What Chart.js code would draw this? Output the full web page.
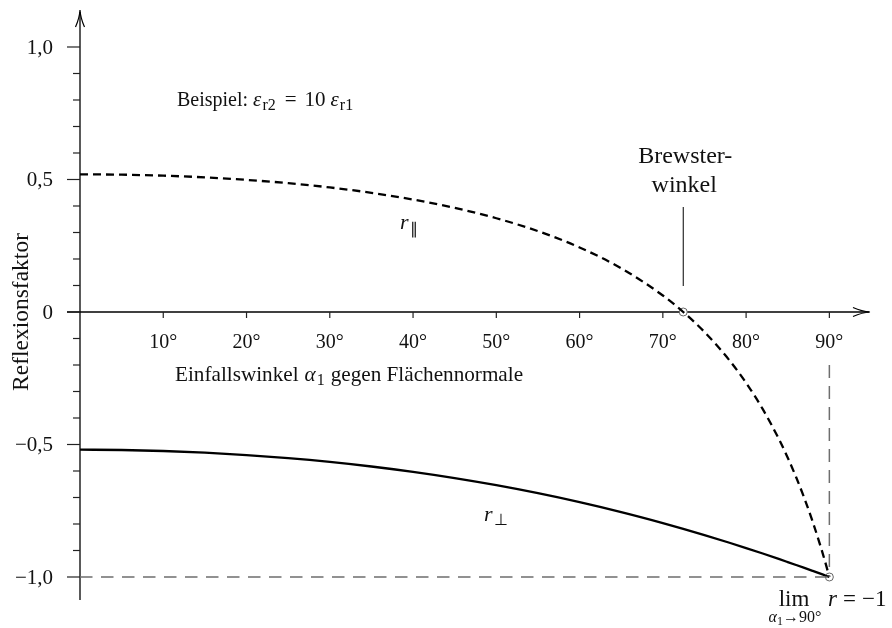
<!DOCTYPE html>
<html>
<head>
<meta charset="utf-8">
<script src="https://cdn.jsdelivr.net/npm/chart.js@4"></script>
<style>
html,body{margin:0;padding:0;background:#fff;}
canvas{display:block;}
</style>
</head>
<body>
<canvas id="c" width="892" height="628"></canvas>
<script>
// ---- data ----
const angles = [0,5,10,15,20,25,30,35,40,45,50,55,60,65,70,72.45,75,78,80,82,84,85,86,87,88,89,89.5,90];
const rPar   = [0.5195,0.5182,0.5144,0.5080,0.4986,0.4861,0.4700,0.4497,0.4243,0.3929,0.3538,0.3051,0.2436,0.1649,0.0622,0,-0.0755,-0.1825,-0.2675,-0.3667,-0.4834,-0.5499,-0.6228,-0.7029,-0.7916,-0.8901,-0.9435,-1.0];
const rPerp  = [-0.5195,-0.5207,-0.5245,-0.5308,-0.5398,-0.5514,-0.5657,-0.5830,-0.6033,-0.6268,-0.6536,-0.6838,-0.7176,-0.7552,-0.7965,-0.8182,-0.8417,-0.8707,-0.8907,-0.9114,-0.9327,-0.9436,-0.9546,-0.9657,-0.9770,-0.9884,-0.9942,-1.0];
const xTicks = [10,20,30,40,50,60,70,80,90];
const xTickLabels = ["10°","20°","30°","40°","50°","60°","70°","80°","90°"];
const yMajorTicks = [1.0,0.5,0,-0.5,-1.0];
const yMajorLabels = ["1,0","0,5","0","\u22120,5","\u22121,0"];
const yMinorTicks = [0.9,0.8,0.7,0.6,0.4,0.3,0.2,0.1,-0.1,-0.2,-0.3,-0.4,-0.6,-0.7,-0.8,-0.9];
const limitLineX = [0,90];          // horizontal guide at r = -1
const limitLineY = [-1,-1];
const vertLineX = [90,90];          // vertical guide at 90°
const vertLineY = [-0.2,-1];
const brewsterAngle = 72.45;
const markerX = [72.45, 90];
const markerY = [0, -1];

const FONT = '"Liberation Serif", "Times New Roman", serif';
const pts = (xs, ys) => xs.map((x,i)=>({x:x, y:ys[i]}));

// segs: [text, size, italic, dy, gapAfter]
function rich(ctx, x, y, segs, align){
  const f = s => (s[2]?'italic ':'') + s[1] + 'px ' + FONT;
  let w = 0;
  segs.forEach(s=>{ctx.font=f(s); w += ctx.measureText(s[0]).width + (s[4]||0);});
  let cx = align==='center' ? x - w/2 : (align==='right' ? x - w : x);
  ctx.textAlign='left'; ctx.textBaseline='alphabetic';
  segs.forEach(s=>{
    ctx.font=f(s);
    ctx.fillText(s[0], cx, y+(s[3]||0));
    cx += ctx.measureText(s[0]).width + (s[4]||0);
  });
}

const axesPlugin = {
  id:'axesPlugin',
  beforeDatasetsDraw(chart){
    const ctx = chart.ctx, xs = chart.scales.x, ys = chart.scales.y;
    const X = v=>xs.getPixelForValue(v), Y = v=>ys.getPixelForValue(v);
    const x0 = X(0), y0 = Y(0);
    ctx.save();
    ctx.strokeStyle='#000'; ctx.fillStyle='#000'; ctx.lineWidth=1.3;
    // y axis
    ctx.beginPath(); ctx.moveTo(x0, chart.chartArea.bottom); ctx.lineTo(x0, chart.chartArea.top+2); ctx.stroke();
    // x axis
    ctx.beginPath(); ctx.moveTo(x0-13, y0); ctx.lineTo(chart.chartArea.right-2, y0); ctx.stroke();
    // arrow heads
    const tx = chart.chartArea.right-1, ty = chart.chartArea.top;
    ctx.lineWidth=1.2;
    ctx.beginPath();
    ctx.moveTo(tx-17, y0-4.5); ctx.quadraticCurveTo(tx-8, y0-0.5, tx, y0);
    ctx.quadraticCurveTo(tx-8, y0+0.5, tx-17, y0+4.5);
    ctx.stroke();
    ctx.beginPath();
    ctx.moveTo(x0-4.5, ty+17); ctx.quadraticCurveTo(x0-0.5, ty+8, x0, ty);
    ctx.quadraticCurveTo(x0+0.5, ty+8, x0+4.5, ty+17);
    ctx.stroke();
    // y ticks
    ctx.lineWidth=1.2; ctx.strokeStyle='#222';
    yMajorTicks.forEach(v=>{ctx.beginPath(); ctx.moveTo(x0-13, Y(v)); ctx.lineTo(x0, Y(v)); ctx.stroke();});
    yMinorTicks.forEach(v=>{ctx.beginPath(); ctx.moveTo(x0-7, Y(v)); ctx.lineTo(x0, Y(v)); ctx.stroke();});
    // x ticks
    xTicks.forEach(v=>{ctx.beginPath(); ctx.moveTo(X(v), y0); ctx.lineTo(X(v), y0+6); ctx.stroke();});
    // tick labels
    ctx.fillStyle='#111';
    ctx.font='20px '+FONT; ctx.textBaseline='alphabetic';
    ctx.textAlign='center';
    xTicks.forEach((v,i)=>ctx.fillText(xTickLabels[i], X(v), y0+36));
    ctx.textAlign='right';
    ctx.font='21px '+FONT;
    yMajorLabels.forEach((t,i)=>ctx.fillText(t, 53, Y(yMajorTicks[i])+7));
    // y title
    ctx.save();
    ctx.translate(28, y0); ctx.rotate(-Math.PI/2);
    ctx.font='23.5px '+FONT;
    ctx.textAlign='center'; ctx.fillText('Reflexionsfaktor', 0, 0);
    ctx.restore();
    // x title
    rich(ctx, 175, y0+69, [['Einfallswinkel',21.2,false,0,6],['\u03B1',21.2,true,0,1],['1',16,false,4,6],['gegen Flächennormale',21.2,false,0,0]], 'left');
    // example
    rich(ctx, 177, 106, [['Beispiel:',20,false,0,5],['\u03B5',21,true,0,1],['r2',16,false,4,9],['=',21,false,0,8],['10',21,false,0,5],['\u03B5',21,true,0,1],['r1',16,false,4,0]], 'left');
    // Brewster label + pointer
    const bx = X(brewsterAngle);
    ctx.textAlign='center';
    ctx.font='24px '+FONT;
    ctx.fillText('Brewster-', bx+2, 163);
    ctx.fillText('winkel', bx+1, 192);
    ctx.lineWidth=1; ctx.strokeStyle='#000';
    ctx.beginPath(); ctx.moveTo(bx, 207); ctx.lineTo(bx, 286); ctx.stroke();
    // curve labels
    rich(ctx, 400, 229, [['r',22,true,0,1],['\u2225',16,false,5,0]], 'left');
    rich(ctx, 484, 521, [['r',22,true,0,1],['\u22A5',16,false,4,0]], 'left');
    // limit annotation
    rich(ctx, 794, 606, [['lim',23,false,0,0]], 'center');
    rich(ctx, 795, 622, [['\u03B1',16,true,0,0],['1',12,false,3,0],['\u2192',16,false,0,0],['90°',16,false,0,0]], 'center');
    rich(ctx, 828, 606, [['r',23,true,0,6],['=',23,false,0,6],['\u22121',23,false,0,0]], 'left');
    ctx.restore();
  }
};

new Chart(document.getElementById('c'), {
  type:'scatter',
  data:{
    datasets:[
      {label:'limit h', data:pts(limitLineX, limitLineY), showLine:true, borderColor:'#6e6e6e', borderWidth:1.5, borderDash:[12.5,8.5], pointRadius:0},
      {label:'limit v', data:pts(vertLineX, vertLineY), showLine:true, borderColor:'#6e6e6e', borderWidth:1.5, borderDash:[13,8], pointRadius:0},
      {label:'r_par', data:pts(angles, rPar), showLine:true, borderColor:'#000', borderWidth:2.3, borderDash:[8,5], pointRadius:0, cubicInterpolationMode:'monotone'},
      {label:'r_perp', data:pts(angles, rPerp), showLine:true, borderColor:'#000', borderWidth:2.3, pointRadius:0, cubicInterpolationMode:'monotone'},
      {label:'markers', data:pts(markerX, markerY), showLine:false, pointRadius:4, pointBackgroundColor:'#fff', pointBorderColor:'#666', pointBorderWidth:1}
    ]
  },
  options:{
    responsive:false, animation:false, devicePixelRatio:1,
    layout:{padding:{left:80, right:21, top:10, bottom:28}},
    plugins:{legend:{display:false}, tooltip:{enabled:false}},
    scales:{
      x:{type:'linear', min:0, max:95, display:false},
      y:{type:'linear', min:-1.0868, max:1.1396, display:false}
    },
    elements:{line:{tension:0}}
  },
  plugins:[axesPlugin]
});
</script>
</body>
</html>
